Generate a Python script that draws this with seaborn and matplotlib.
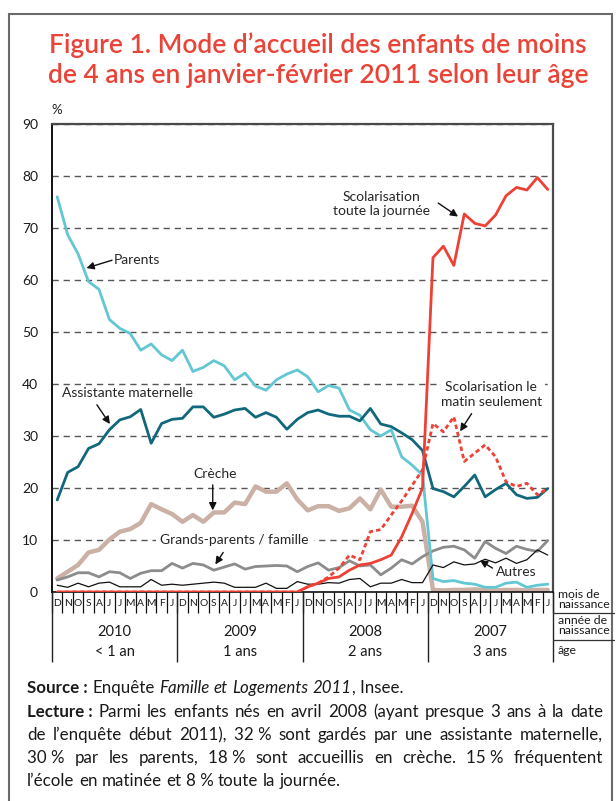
import matplotlib
matplotlib.use("Agg")
import matplotlib.pyplot as plt
import seaborn as sns
import pandas as pd
import numpy as np

# ---------------- data ----------------
months = ["D", "N", "O", "S", "A", "J", "J", "M", "A", "M", "F", "J"] * 4
years = ["2010", "2009", "2008", "2007"]
ages = ["< 1 an", "1 ans", "2 ans", "3 ans"]

parents = [76.0, 68.7, 65.0, 59.7, 58.2, 52.4, 50.7, 49.7, 46.5, 47.7, 45.6, 44.5,
           46.5, 42.4, 43.2, 44.5, 43.5, 40.8, 42.1, 39.6, 38.8, 40.8, 41.9, 42.7,
           41.4, 38.5, 39.7, 39.2, 35.0, 34.0, 31.2, 30.0, 31.2, 26.0, 24.4, 22.5,
           2.6, 2.0, 2.2, 1.7, 1.5, 0.9, 0.9, 1.7, 1.9, 0.9, 1.3, 1.5]
assistante = [17.7, 23.0, 24.1, 27.6, 28.5, 31.2, 33.1, 33.7, 35.1, 28.6, 32.4, 33.2,
              33.4, 35.6, 35.6, 33.6, 34.2, 35.0, 35.3, 33.6, 34.5, 33.6, 31.3, 33.2,
              34.5, 35.0, 34.2, 33.8, 33.8, 32.9, 35.3, 32.3, 31.8, 30.6, 29.3, 27.2,
              19.9, 19.3, 18.3, 20.3, 22.5, 18.3, 19.7, 20.9, 18.7, 18.0, 18.2, 19.9]
creche = [2.6, 3.9, 5.2, 7.6, 8.1, 10.1, 11.6, 12.1, 13.3, 16.9, 15.9, 15.0,
          13.5, 14.8, 13.5, 15.3, 15.3, 17.2, 16.9, 20.3, 19.3, 19.3, 20.9, 17.8,
          15.7, 16.5, 16.5, 15.6, 16.1, 18.0, 15.9, 19.7, 16.4, 16.4, 16.6, 13.5,
          0.4, 0.3, 0.4, 0.4, 0.5, 0.4, 0.3, 0.4, 0.4, 0.3, 0.4, 0.4]
grands_parents = [2.3, 2.9, 3.7, 3.7, 2.9, 3.9, 3.7, 2.6, 3.6, 4.1, 4.1, 5.5,
                  4.6, 5.5, 5.2, 4.2, 4.8, 5.4, 4.4, 4.9, 5.0, 5.1, 5.0, 3.9,
                  4.9, 5.6, 4.2, 4.7, 6.0, 5.0, 5.2, 3.3, 4.6, 6.2, 5.4, 6.8,
                  7.9, 8.6, 8.8, 8.1, 6.5, 9.7, 8.4, 7.4, 8.8, 8.2, 7.8, 9.9]
autres = [1.3, 0.9, 1.7, 1.0, 1.7, 1.9, 1.0, 1.0, 1.0, 2.4, 1.3, 1.5,
          1.3, 1.5, 1.7, 1.9, 1.7, 0.9, 0.9, 0.9, 1.7, 0.7, 0.7, 2.0,
          1.5, 1.5, 1.8, 1.7, 2.4, 2.6, 1.0, 1.7, 1.7, 2.4, 1.8, 1.8,
          5.2, 4.7, 5.8, 5.2, 5.4, 6.3, 5.6, 6.5, 5.5, 6.2, 8.1, 7.1]
scol_journee = [0.0, 0.0, 0.0, 0.0, 0.0, 0.0, 0.0, 0.0, 0.0, 0.0, 0.0, 0.0,
                0.0, 0.0, 0.0, 0.0, 0.0, 0.0, 0.0, 0.0, 0.0, 0.0, 0.0, 0.0,
                1.0, 1.7, 2.6, 2.9, 4.2, 5.2, 5.5, 6.2, 7.1, 10.6, 15.1, 20.0,
                64.3, 66.5, 62.8, 72.7, 70.9, 70.4, 72.5, 76.2, 77.8, 77.3, 79.7, 77.4]
scol_matin = [0.0, 0.0, 0.0, 0.0, 0.0, 0.0, 0.0, 0.0, 0.0, 0.0, 0.0, 0.0,
              0.0, 0.0, 0.0, 0.0, 0.0, 0.0, 0.0, 0.0, 0.0, 0.0, 0.0, 0.0,
              1.0, 1.7, 2.9, 4.6, 7.1, 6.2, 11.6, 12.0, 14.8, 17.5, 20.5, 23.5,
              32.4, 30.8, 33.7, 25.1, 26.7, 28.3, 26.0, 21.2, 20.3, 20.9, 18.7, 19.9]

W, H = 616, 801
FONT = "Lato"
TITLE_RED = "#ea4337"

sns.set_style("white")
plt.rcParams["font.family"] = [FONT, "DejaVu Sans"]

fig = plt.figure(figsize=(W / 100, H / 100), dpi=100)
L, R, T, B = 52, 553, 124, 592
ax = fig.add_axes([L / W, 1 - B / H, (R - L) / W, (B - T) / H])

idx = np.arange(len(months))

series = [
    (parents, "#62c7d3", 2.0, "-", 3),
    (assistante, "#11687d", 2.0, "-", 3),
    (creche, "#cbb1a5", 3.2, "-", 2),
    (grands_parents, "#8c8c8c", 2.0, "-", 2),
    (autres, "#111111", 0.9, "-", 4),
    (scol_matin, "#ee4136", 2.0, (0, (1.6, 1.1)), 5),
    (scol_journee, "#ee4136", 2.0, "-", 6),
]
for vals, col, lw, ls, z in series:
    sns.lineplot(x=idx, y=vals, ax=ax, color=col, lw=lw, linestyle=ls,
                 zorder=z, legend=False)

ax.set_xlim(-0.5, len(months) - 0.5)
ax.set_ylim(0, 90)
ax.set_yticks(range(0, 91, 10))
ax.tick_params(axis="y", length=0, pad=10, labelsize=10, colors="#1a1a1a")
ax.yaxis.grid(True, color="#555555", lw=1.0, linestyle=(0, (4.5, 3.5)))
ax.xaxis.grid(False)
ax.set_xlabel("")
ax.set_ylabel("")

ax.set_xticks(idx)
ax.set_xticklabels(months, fontsize=7.4, color="#1a1a1a")
ax.tick_params(axis="x", which="major", length=0, pad=5)

for s in ["top", "right"]:
    ax.spines[s].set_color("#4a4a4a")
    ax.spines[s].set_linewidth(1.6)
ax.spines["left"].set_color("#111111")
ax.spines["left"].set_linewidth(1.4)
ax.spines["bottom"].set_color("#111111")
ax.spines["bottom"].set_linewidth(1.2)

# month cell separators, year separators and labels under the axis
xt = ax.get_xaxis_transform()
ph = B - T
cell_edges = np.arange(len(months) + 1) - 0.5
ax.vlines(cell_edges, -(613 - B) / ph, 0, transform=xt, colors="#111111",
          lw=0.9, clip_on=False, zorder=10)
year_edges = np.arange(0, len(months) + 1, 12) - 0.5
ax.vlines(year_edges, -(662 - B) / ph, 0, transform=xt, colors="#222222",
          lw=1.0, clip_on=False, zorder=10)
for k, (yy, ag) in enumerate(zip(years, ages)):
    xc = k * 12 + 5.5
    ax.text(xc, -(632 - B) / ph, yy, transform=xt, ha="center", va="center",
            fontsize=10.5, color="#1a1a1a")
    ax.text(xc, -(652 - B) / ph, ag, transform=xt, ha="center", va="center",
            fontsize=10.5, color="#1a1a1a")


def ftxt(x, y, s, **kw):
    return fig.text(x / W, 1 - y / H, s, **kw)


for yy, s in [(595, "mois de"), (605, "naissance"), (621, "année de"),
              (631, "naissance"), (650, "âge")]:
    ftxt(558, yy, s, fontsize=8.8, va="center", ha="left", color="#1a1a1a")
for yy in [613, 640]:
    fig.add_artist(plt.Line2D([R / W, 614 / W], [1 - yy / H, 1 - yy / H],
                              color="#333333", lw=0.9))

ftxt(57, 110, "%", fontsize=9.5, ha="center", va="center", color="#1a1a1a")


def arrow(x0, y0, x1, y1):
    ax.annotate("", xy=(x1, y1), xytext=(x0, y0),
                arrowprops=dict(arrowstyle="-|>", color="#111111", lw=1.0,
                                mutation_scale=11, shrinkA=0, shrinkB=0),
                zorder=8)


afs = 10
ax.text(5.45, 63.8, "Parents", fontsize=afs, ha="left", va="center", zorder=9)
arrow(5.25, 63.8, 2.8, 62.3)

ax.text(31.1, 74.6, "Scolarisation\ntoute la journée", fontsize=afs, ha="center",
        va="center", linespacing=1.25, zorder=9)
arrow(36.5, 74.8, 38.4, 72.2)

ax.text(0.45, 38.2, "Assistante maternelle", fontsize=afs, ha="left",
        va="center", zorder=9)
arrow(3.8, 36.0, 5.05, 32.3)

ax.text(15.1, 22.6, "Crèche", fontsize=afs, ha="center", va="center", zorder=9)
arrow(14.9, 20.6, 14.9, 15.7)

ax.text(17.0, 10.0, "Grands-parents / famille", fontsize=afs, ha="center",
        va="center", zorder=9,
        bbox=dict(boxstyle="square,pad=0.35", fc="white", ec="none"))
arrow(15.9, 7.6, 15.15, 5.3)

ax.text(41.6, 38.0, "Scolarisation le\nmatin seulement", fontsize=afs,
        ha="center", va="center", linespacing=1.25, zorder=9,
        bbox=dict(boxstyle="square,pad=0.25", fc="white", ec="none"))
arrow(39.7, 34.3, 38.6, 30.9)

ax.text(42.0, 3.9, "Autres", fontsize=afs, ha="left", va="center", zorder=9)
arrow(41.7, 4.6, 40.5, 6.1)

# title
ftxt(318, 45, "Figure 1. Mode d’accueil des enfants de moins", fontsize=19,
     fontweight="semibold", color=TITLE_RED, ha="center", va="center")
ftxt(318, 76, "de 4 ans en janvier-février 2011 selon leur âge", fontsize=19,
     fontweight="semibold", color=TITLE_RED, ha="center", va="center")

fig.add_artist(plt.Rectangle((9 / W, 1 - 812 / H), (612 - 9) / W, (812 - 14) / H,
                             fill=False, ec="#6a6a6a", lw=1.5))

# ---------------- bottom text, with justification ----------------
renderer = fig.canvas.get_renderer()
BFS = 12.2


def line_of(tokens, ybase, x0, x1=None):
    objs, widths = [], []
    for txt, style, gap in tokens:
        kw = dict(fontsize=BFS, color="#1a1a1a", va="baseline", ha="left")
        if style == "b":
            kw["fontweight"] = "bold"
        elif style == "i":
            kw["fontstyle"] = "italic"
        o = fig.text(0, 0, txt, **kw)
        objs.append(o)
        widths.append(o.get_window_extent(renderer).width)
    ngap = sum(1 for t in tokens if t[2])
    probe1 = fig.text(0, 0, "n n", fontsize=BFS)
    probe2 = fig.text(0, 0, "nn", fontsize=BFS)
    sp = probe1.get_window_extent(renderer).width - probe2.get_window_extent(renderer).width
    probe1.remove()
    probe2.remove()
    gap = sp if x1 is None or ngap == 0 else (x1 - x0 - sum(widths)) / ngap
    x = x0
    for o, w, t in zip(objs, widths, tokens):
        if t[2]:
            x += gap
        o.set_position((x / W, 1 - ybase / H))
        x += w


def words(s, style="n", first_gap=True):
    out = []
    for k, w in enumerate(s.split(" ")):
        out.append((w.replace("~", "\u00a0"), style, first_gap if k == 0 else True))
    return out


XL, XR = 27, 603
line_of([("Source\u00a0:", "b", False)] + words("Enquête")
        + words("Famille et Logements 2011", "i") + [(", Insee.", "n", False)],
        693, XL)
line_of([("Lecture\u00a0:", "b", False)]
        + words("Parmi les enfants nés en avril 2008 (ayant presque 3 ans à la date"),
        717, XL, XR)
line_of(words("de l’enquête début 2011), 32~% sont gardés par une assistante maternelle,",
              first_gap=False), 740, XL, XR)
line_of(words("30~% par les parents, 18~% sont accueillis en crèche. 15~% fréquentent",
              first_gap=False), 763, XL, XR)
line_of(words("l’école en matinée et 8~% toute la journée.", first_gap=False), 786, XL)

fig.savefig("out.png", dpi=100)
